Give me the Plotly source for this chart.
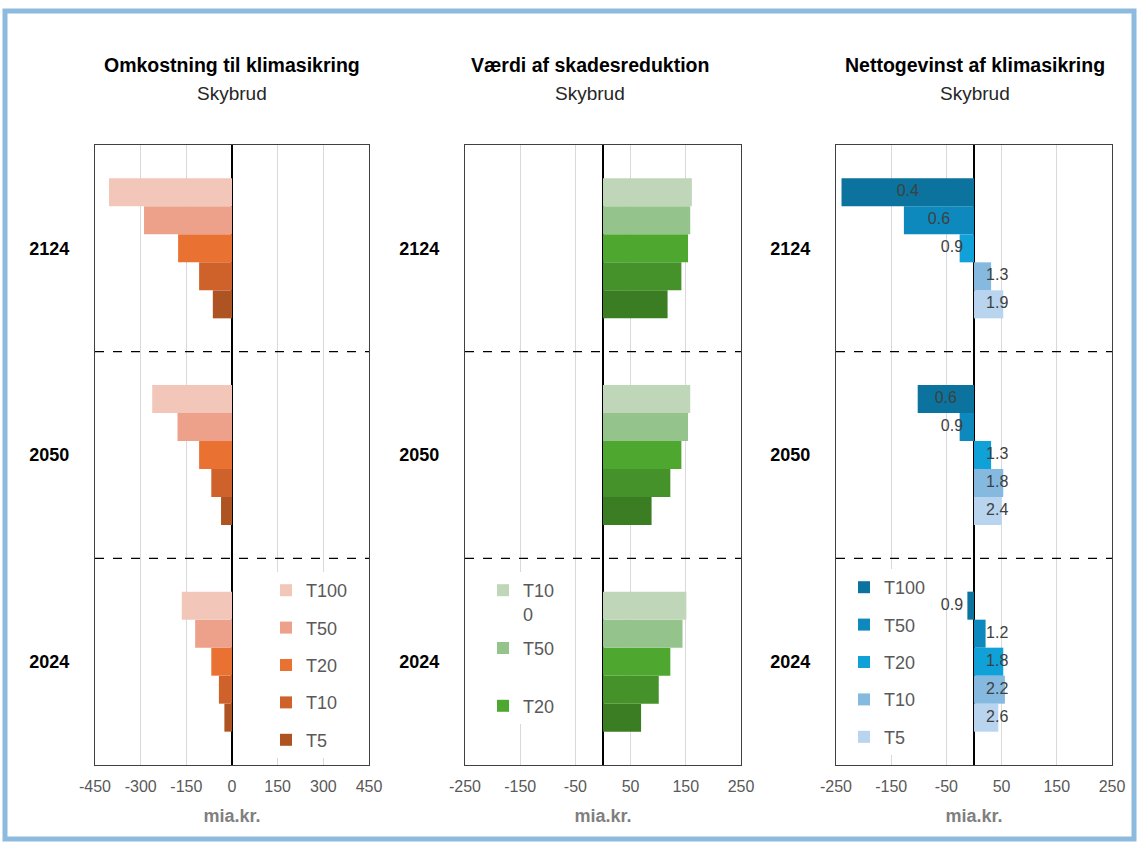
import plotly.graph_objects as go

# ---------------- data ----------------
years = ["2024", "2050", "2124"]          # bottom -> top
periods = ["T5", "T10", "T20", "T50", "T100"]  # bottom -> top inside each year

cost_T100 = [-165, -262, -404]
cost_T50 = [-121, -179, -289]
cost_T20 = [-68, -108, -177]
cost_T10 = [-43, -68, -108]
cost_T5 = [-25, -36, -63]

benefit_T100 = [151, 158, 161]
benefit_T50 = [144, 154, 158]
benefit_T20 = [122, 142, 154]
benefit_T10 = [101, 122, 142]
benefit_T5 = [69, 88, 117]

net_T100 = [-12, -102, -240]
net_T50 = [21, -26, -127]
net_T20 = [53, 31, -26]
net_T10 = [56, 53, 31]
net_T5 = [44, 50, 53]

ratio_T100 = ["0.9", "0.6", "0.4"]
ratio_T50 = ["1.2", "0.9", "0.6"]
ratio_T20 = ["1.8", "1.3", "0.9"]
ratio_T10 = ["2.2", "1.8", "1.3"]
ratio_T5 = ["2.6", "2.4", "1.9"]

ticks_cost = [-450, -300, -150, 0, 150, 300, 450]
ticks_other = [-250, -150, -50, 50, 150, 250]

titles = ["Omkostning til klimasikring", "Værdi af skadesreduktion", "Nettogevinst af klimasikring"]
subtitle = "Skybrud"
x_title = "mia.kr."

cost = {"T100": cost_T100, "T50": cost_T50, "T20": cost_T20, "T10": cost_T10, "T5": cost_T5}
benefit = {"T100": benefit_T100, "T50": benefit_T50, "T20": benefit_T20, "T10": benefit_T10, "T5": benefit_T5}
net = {"T100": net_T100, "T50": net_T50, "T20": net_T20, "T10": net_T10, "T5": net_T5}
ratio = {"T100": ratio_T100, "T50": ratio_T50, "T20": ratio_T20, "T10": ratio_T10, "T5": ratio_T5}

# ---------------- styles ----------------
col_cost = {"T100": "#F3C6BA", "T50": "#EDA18A", "T20": "#E97233", "T10": "#CF622A", "T5": "#AE5322"}
col_ben = {"T100": "#BFD7B8", "T50": "#94C38B", "T20": "#4EA72F", "T10": "#45922B", "T5": "#3B7D23"}
col_net = {"T100": "#0B739D", "T50": "#0E89BD", "T20": "#10A1D8", "T10": "#86B9E0", "T5": "#B8D4EE"}

W, H = 1137, 843
bw = 0.1355
FONT = "Liberation Sans"

def px(v):
    return v / W

def py(v):
    return 1 - v / H

x_domains = [[px(95), px(369)], [px(465), px(741)], [px(836), px(1112)]]
y_domain = [py(765), py(145)]

fig = go.Figure()

panels = [
    (cost, col_cost, "legend", periods),
    (benefit, col_ben, "legend2", ["T20", "T50", "T100"]),
    (net, col_net, "legend3", periods),
]

for p, (series, cols, leg, shown) in enumerate(panels):
    xa = "x" if p == 0 else f"x{p+1}"
    ya = "y" if p == 0 else f"y{p+1}"
    for j, per in enumerate(periods):
        ypos = [i + (j - 2) * bw for i in range(len(years))]
        name = per
        if p == 1 and per == "T100":
            name = "T10<br>0"
        elif p == 1 and per == "T50":
            name = "T50<br>\u00a0"
        fig.add_trace(go.Bar(
            x=series[per], y=ypos, orientation="h", width=bw,
            marker=dict(color=cols[per], line=dict(width=0)),
            name=name, legend=leg, legendgroup=f"{leg}_{per}",
            legendrank=100 - j,
            showlegend=per in shown,
            xaxis=xa, yaxis=ya, hoverinfo="x+name",
        ))
    if p == 2:
        # ratio labels
        lx, ly, lt = [], [], []
        for j, per in enumerate(periods):
            for i in range(len(years)):
                v = net[per][i]
                if v >= 0:
                    xx = 42
                elif v > -80:
                    xx = -40
                else:
                    xx = v / 2
                lx.append(xx)
                ly.append(i + (j - 2) * bw)
                lt.append(ratio[per][i])
        fig.add_trace(go.Scatter(
            x=lx, y=ly, text=lt, mode="text", textposition="middle center",
            textfont=dict(family=FONT, size=16, color="#404040"),
            showlegend=False, hoverinfo="skip", xaxis=xa, yaxis=ya,
        ))

ranges = [[-450, 450], [-250, 250], [-250, 250]]
tickvals = [ticks_cost, ticks_other, ticks_other]
centers = [232, 590, 975]

layout = dict(
    width=W, height=H, margin=dict(l=0, r=0, t=0, b=0, autoexpand=False),
    paper_bgcolor="white", plot_bgcolor="white",
    barmode="overlay", font=dict(family=FONT, color="#595959"),
)

for p in range(3):
    sx = "" if p == 0 else str(p + 1)
    layout["xaxis" + sx] = dict(
        domain=x_domains[p], anchor="y" + sx, range=ranges[p], automargin=False,
        tickmode="array", tickvals=tickvals[p], ticktext=[str(t) for t in tickvals[p]],
        showgrid=True, gridcolor="#D9D9D9", gridwidth=1,
        zeroline=True, zerolinecolor="#000000", zerolinewidth=1.5,
        showline=True, mirror=True, linecolor="#404040", linewidth=1.3,
        ticks="", ticklabelstandoff=7, tickfont=dict(family=FONT, size=16, color="#595959"),
        title=dict(text=x_title, font=dict(family=FONT, size=18, color="#7F7F7F", weight="bold"), standoff=15),
        fixedrange=True,
    )
    layout["yaxis" + sx] = dict(
        domain=y_domain, anchor="x" + sx, range=[-0.5, 2.5], automargin=False,
        tickvals=[0, 1, 2], ticktext=years, showgrid=False, zeroline=False,
        showline=True, mirror=True, linecolor="#404040", linewidth=1.3,
        ticks="", ticklabelstandoff=21,
        tickfont=dict(family=FONT, size=18, color="#000000", weight="bold"),
        fixedrange=True,
    )

legend_common = dict(
    bgcolor="white", borderwidth=0, traceorder="grouped",
    font=dict(family=FONT, size=18, color="#595959"),
    xanchor="left", yanchor="top", itemclick=False, itemdoubleclick=False,
)
layout["legend"] = dict(legend_common, x=px(266), y=py(572), tracegroupgap=11)
layout["legend2"] = dict(legend_common, x=px(483), y=py(572), tracegroupgap=8, valign="top")
layout["legend3"] = dict(legend_common, x=px(844), y=py(569), tracegroupgap=11)

fig.update_layout(**layout)

shapes = []
for p in range(3):
    sx = "" if p == 0 else str(p + 1)
    for yy in [0.5, 1.5]:
        shapes.append(dict(type="line", xref=f"x{sx} domain", yref="y" + sx,
                           x0=0, x1=1, y0=yy, y1=yy,
                           line=dict(color="#000000", width=1.2, dash="dash")))
# outer frame
shapes.append(dict(type="rect", xref="paper", yref="paper",
                   x0=px(5), x1=px(1134), y0=py(839), y1=py(11),
                   line=dict(color="#8DBBE0", width=5)))
fig.update_layout(shapes=shapes)

annotations = []
for p in range(3):
    annotations.append(dict(text=titles[p], x=px(centers[p]), y=py(65), xref="paper", yref="paper",
                            showarrow=False, xanchor="center", yanchor="middle",
                            font=dict(family=FONT, size=19.5, color="#000000", weight="bold")))
    annotations.append(dict(text=subtitle, x=px(centers[p]), y=py(94), xref="paper", yref="paper",
                            showarrow=False, xanchor="center", yanchor="middle",
                            font=dict(family=FONT, size=19, color="#262626")))
fig.update_layout(annotations=annotations)

fig.write_html("out.html", config={"displayModeBar": False},
               post_script="document.body.style.margin='0';document.body.style.overflow='hidden';")
